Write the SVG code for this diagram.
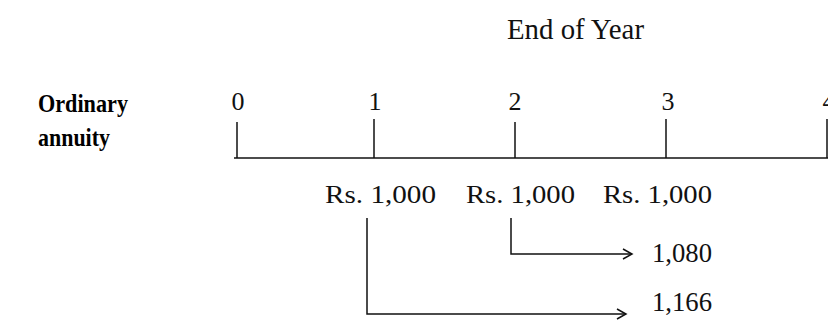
<svg xmlns="http://www.w3.org/2000/svg" width="828" height="331" viewBox="0 0 828 331">
<style>
.t{font-family:"Liberation Serif","Times New Roman",serif;fill:#111}
.b{font-family:"Liberation Serif","Times New Roman",serif;font-weight:bold;fill:#000}
.ln{stroke:#111;stroke-width:1.5;fill:none}
</style>
<defs>
<marker id="arr" markerWidth="12" markerHeight="12" refX="10" refY="6" orient="auto" markerUnits="userSpaceOnUse">
<path d="M1,1 L10,6 L1,11" fill="none" stroke="#111" stroke-width="1.5"/>
</marker>
</defs>
<rect width="828" height="331" fill="#fff"/>
<g id="title"><text class="t" x="507" y="39" font-size="30" textLength="137" lengthAdjust="spacingAndGlyphs">End of Year</text></g>
<g id="label"><text class="b" x="38" y="112" font-size="25" textLength="90" lengthAdjust="spacingAndGlyphs">Ordinary</text><text class="b" x="38" y="146" font-size="25" textLength="72" lengthAdjust="spacingAndGlyphs">annuity</text></g>
<g id="timeline">
<line class="ln" x1="234" y1="158" x2="828" y2="158"/>
<line class="ln" x1="237" y1="122" x2="237" y2="158"/>
<line class="ln" x1="374" y1="119" x2="374" y2="158"/>
<line class="ln" x1="515" y1="122" x2="515" y2="158"/>
<line class="ln" x1="666" y1="119" x2="666" y2="158"/>
<line class="ln" x1="827" y1="119" x2="827" y2="158"/>
</g>
<g id="years" class="t" font-size="26" text-anchor="middle">
<text x="238" y="110">0</text>
<text x="375" y="110">1</text>
<text x="515" y="110">2</text>
<text x="668" y="110">3</text>
<text x="829" y="110">4</text>
</g>
<g id="payments" class="t" font-size="26">
<text x="325" y="203" textLength="111" lengthAdjust="spacingAndGlyphs">Rs. 1,000</text>
<text x="466" y="203" textLength="109" lengthAdjust="spacingAndGlyphs">Rs. 1,000</text>
<text x="603" y="203" textLength="109" lengthAdjust="spacingAndGlyphs">Rs. 1,000</text>
</g>
<g id="connectors">
<path class="ln" d="M511,218 V254 H632" marker-end="url(#arr)"/>
<path class="ln" d="M367,218 V314 H626" marker-end="url(#arr)"/>
</g>
<g id="values" class="t" font-size="27">
<text x="652" y="262" textLength="60" lengthAdjust="spacingAndGlyphs">1,080</text>
<text x="652" y="311" textLength="60" lengthAdjust="spacingAndGlyphs">1,166</text>
</g>
</svg>
